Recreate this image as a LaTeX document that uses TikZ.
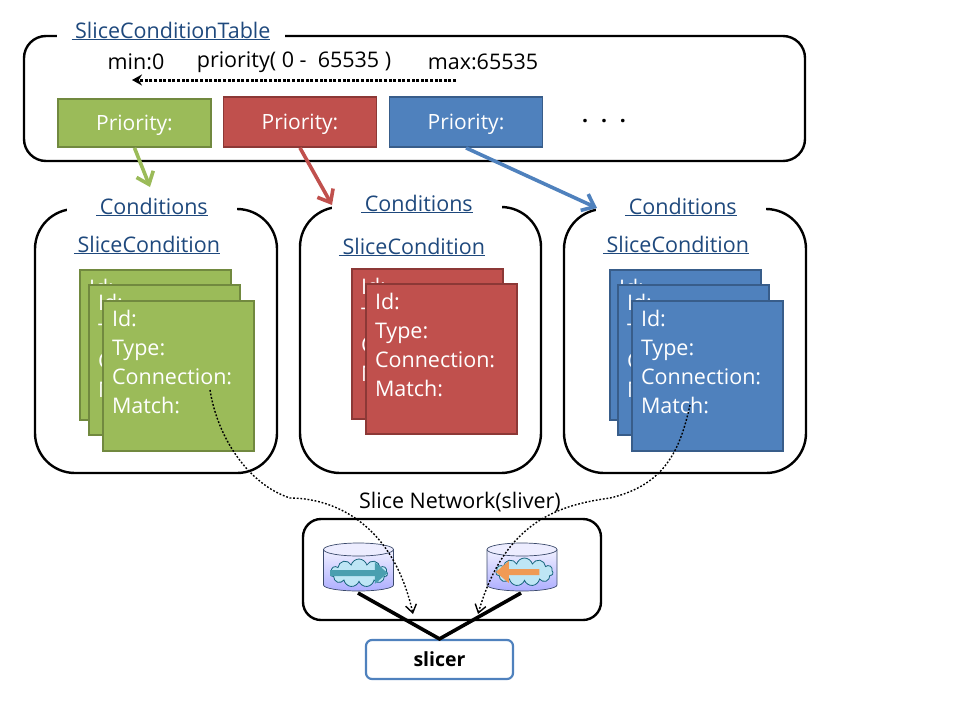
\documentclass[tikz,border=0pt]{standalone}
\usepackage{fontspec}
\setmainfont{Open Sans}
\usepackage{xcolor}
\usetikzlibrary{shapes,arrows.meta,positioning,calc}
\definecolor{greenfill}{HTML}{9BBB59}
\definecolor{greenline}{HTML}{71893F}
\definecolor{redfill}{HTML}{C0504D}
\definecolor{redline}{HTML}{8C3836}
\definecolor{bluefill}{HTML}{4F81BD}
\definecolor{blueline}{HTML}{385D8A}
\definecolor{titleblue}{HTML}{1F497D}
\definecolor{drumline}{HTML}{3B4A6B}
\definecolor{cloudfill}{HTML}{BEE6F5}
\definecolor{cloudline}{HTML}{17657D}
\definecolor{tealarrow}{HTML}{4A9FB0}
\definecolor{orangearrow}{HTML}{F09A55}
\newcommand{\cardlines}{Id:\\Type:\\Connection:\\Match:\\\mbox{}}
\newcommand{\drumshape}[1]{%
    \shade[top color=blue!6, bottom color=blue!32, draw=drumline, line width=0.7pt] (#1-35,550) -- (#1-35,585) arc[start angle=180, end angle=360, x radius=35pt, y radius=6pt] -- (#1+35,550) -- cycle;
    \draw[draw=drumline, line width=0.7pt, fill=blue!7] (#1,549.5) ellipse[x radius=35pt, y radius=6.5pt];
}
\begin{document}
\begin{tikzpicture}[
    x=1pt, y=-1pt,
    groupbox/.style={rectangle, draw, line width=2.4pt, rounded corners=#1},
    title/.style={fill=white, inner xsep=#1, inner ysep=1pt, text=titleblue, font=\fontsize{21.5}{25}\selectfont},
    plain/.style={font=\fontsize{21.5}{25}\selectfont},
    priobox/.style={rectangle, draw, line width=1.8pt, minimum width=153pt, minimum height=48pt, text=white, text height=16pt, text depth=2pt, font=\fontsize{21}{25}\selectfont},
    card/.style={rectangle, draw, line width=2pt, anchor=north west, minimum width=151pt, minimum height=150pt, inner xsep=9pt, inner ysep=0pt, text width=133pt, align=left, text=white, font=\fontsize{21.5}{29}\selectfont},
    linkarrow/.style={-{Straight Barb[length=11pt,width=18pt]}, line width=3.6pt},
    matchlink/.style={-{Straight Barb[length=8pt,width=11pt]}, line width=1.4pt, dash pattern=on 1.8pt off 1.8pt},
    netcloud/.style={cloud, cloud puffs=11, aspect=2.2, draw=cloudline, line width=0.8pt, fill=cloudfill, minimum width=57pt, minimum height=28pt, inner sep=0pt},
]
    \useasboundingbox (0,0) rectangle (960,720);

    % Table
    \node[groupbox=22pt, minimum width=781pt, minimum height=125pt] (table) at (414.5,98.5) {};
    \node[title=15pt] (tabletitle) at (171,31) {\underline{\,SliceConditionTable}};
    \node[plain] (minlabel) at (136,62) {min:0};
    \node[plain] (priolabel) at (294,62) {priority( 0 -\ \ 65535 )};
    \node[plain] (maxlabel) at (483,62) {max:65535};
    \coordinate (rangeright) at (456,80);
    \coordinate (rangeleft) at (132,80);
    \draw[-{Stealth[length=10pt,width=11pt]}, line width=3pt, dash pattern=on 3pt off 1.6pt] (rangeright) -- (rangeleft);
    \node[priobox, fill=greenfill, draw=greenline] (priogreen) at (134.5,123) {Priority:};
    \node[priobox, fill=redfill, draw=redline, minimum height=50pt] (priored) at (300,122) {Priority:};
    \node[priobox, fill=bluefill, draw=blueline, minimum height=50pt] (prioblue) at (466,122) {Priority:};
    \node[font=\bfseries\fontsize{21}{25}\selectfont] (moredots) at (604,121) {.\hspace{13pt}.\hspace{13pt}.};

    % Condition groups
    \node[groupbox=40pt, minimum width=242pt, minimum height=264pt] (condgreen) at (156,341) {};
    \node[groupbox=40pt, minimum width=241pt, minimum height=266pt] (condred) at (420.5,340) {};
    \node[groupbox=40pt, minimum width=242pt, minimum height=264pt] (condblue) at (685,341) {};
    \node[title=29pt] (titlegreen) at (152,207) {\underline{\,Conditions}};
    \node[title=29pt] (titlered) at (417,204) {\underline{\,Conditions}};
    \node[title=29pt] (titleblue) at (681,207) {\underline{\,Conditions}};
    \node[plain, text=titleblue] (subgreen) at (147,245) {\underline{\,SliceCondition}};
    \node[plain, text=titleblue] (subred) at (412,247) {\underline{\,SliceCondition}};
    \node[plain, text=titleblue] (subblue) at (676,245) {\underline{\,SliceCondition}};

    % Cards
    \node[card, fill=greenfill, draw=greenline] (greenA) at (79,269) {\cardlines};
    \node[card, fill=greenfill, draw=greenline] (greenB) at (88,284) {\cardlines};
    \node[card, fill=greenfill, draw=greenline] (greenC) at (102,300) {\cardlines};
    \node[card, fill=redfill, draw=redline] (redA) at (351,268) {\cardlines};
    \node[card, fill=redfill, draw=redline] (redB) at (365,283) {\cardlines};
    \node[card, fill=bluefill, draw=blueline] (blueA) at (609,269) {\cardlines};
    \node[card, fill=bluefill, draw=blueline] (blueB) at (617,284) {\cardlines};
    \node[card, fill=bluefill, draw=blueline] (blueC) at (631,300) {\cardlines};

    % Priority arrows
    \coordinate (greenend) at (150,187);
    \coordinate (redend) at (332,205);
    \coordinate (blueend) at (597,208);
    \draw[linkarrow, greenfill] (priogreen.south) -- (greenend);
    \draw[linkarrow, redfill] (priored.south) -- (redend);
    \draw[linkarrow, bluefill] (prioblue.south) -- (blueend);

    % Slice network
    \node[groupbox=18pt, minimum width=298pt, minimum height=101pt] (network) at (452,569.5) {};
    \node[plain] (nettitle) at (460,502) {Slice Network(sliver)};
    \drumshape{358.5}
    \drumshape{522}
    \coordinate (dbleft) at (358,593);
    \coordinate (dbright) at (521,593);
    \node[netcloud] (cloudleft) at (359,573) {};
    \node[netcloud] (cloudright) at (524.5,572) {};
    \draw[-{Triangle[length=13pt,width=21pt]}, line width=6pt, tealarrow] (cloudleft.west) -- (cloudleft.east);
    \draw[-{Triangle[length=13pt,width=21pt]}, line width=6pt, orangearrow] ($(cloudright.east)+(-14,0)$) -- (cloudright.west);
    \node[rectangle, draw=bluefill, line width=2.2pt, rounded corners=6pt, minimum width=147pt, minimum height=39pt, font=\bfseries\fontsize{19.5}{23}\selectfont] (slicer) at (439.5,659.5) {slicer};
    \draw[line width=3.6pt] (dbleft) -- (slicer.north) -- (dbright);

    % Match links
    \coordinate (matchgreen) at (210,390);
    \coordinate (matchblue) at (690,405);
    \coordinate (greentip) at (413,614);
    \coordinate (bluetip) at (478,614);
    \draw[matchlink] (matchgreen) .. controls (218,440) and (250,485) .. (290,498) .. controls (330,498) and (392,520) .. (greentip);
    \draw[matchlink] (matchblue) .. controls (680,450) and (665,485) .. (610,498) .. controls (560,505) and (505,520) .. (bluetip);
\end{tikzpicture}
\end{document}
